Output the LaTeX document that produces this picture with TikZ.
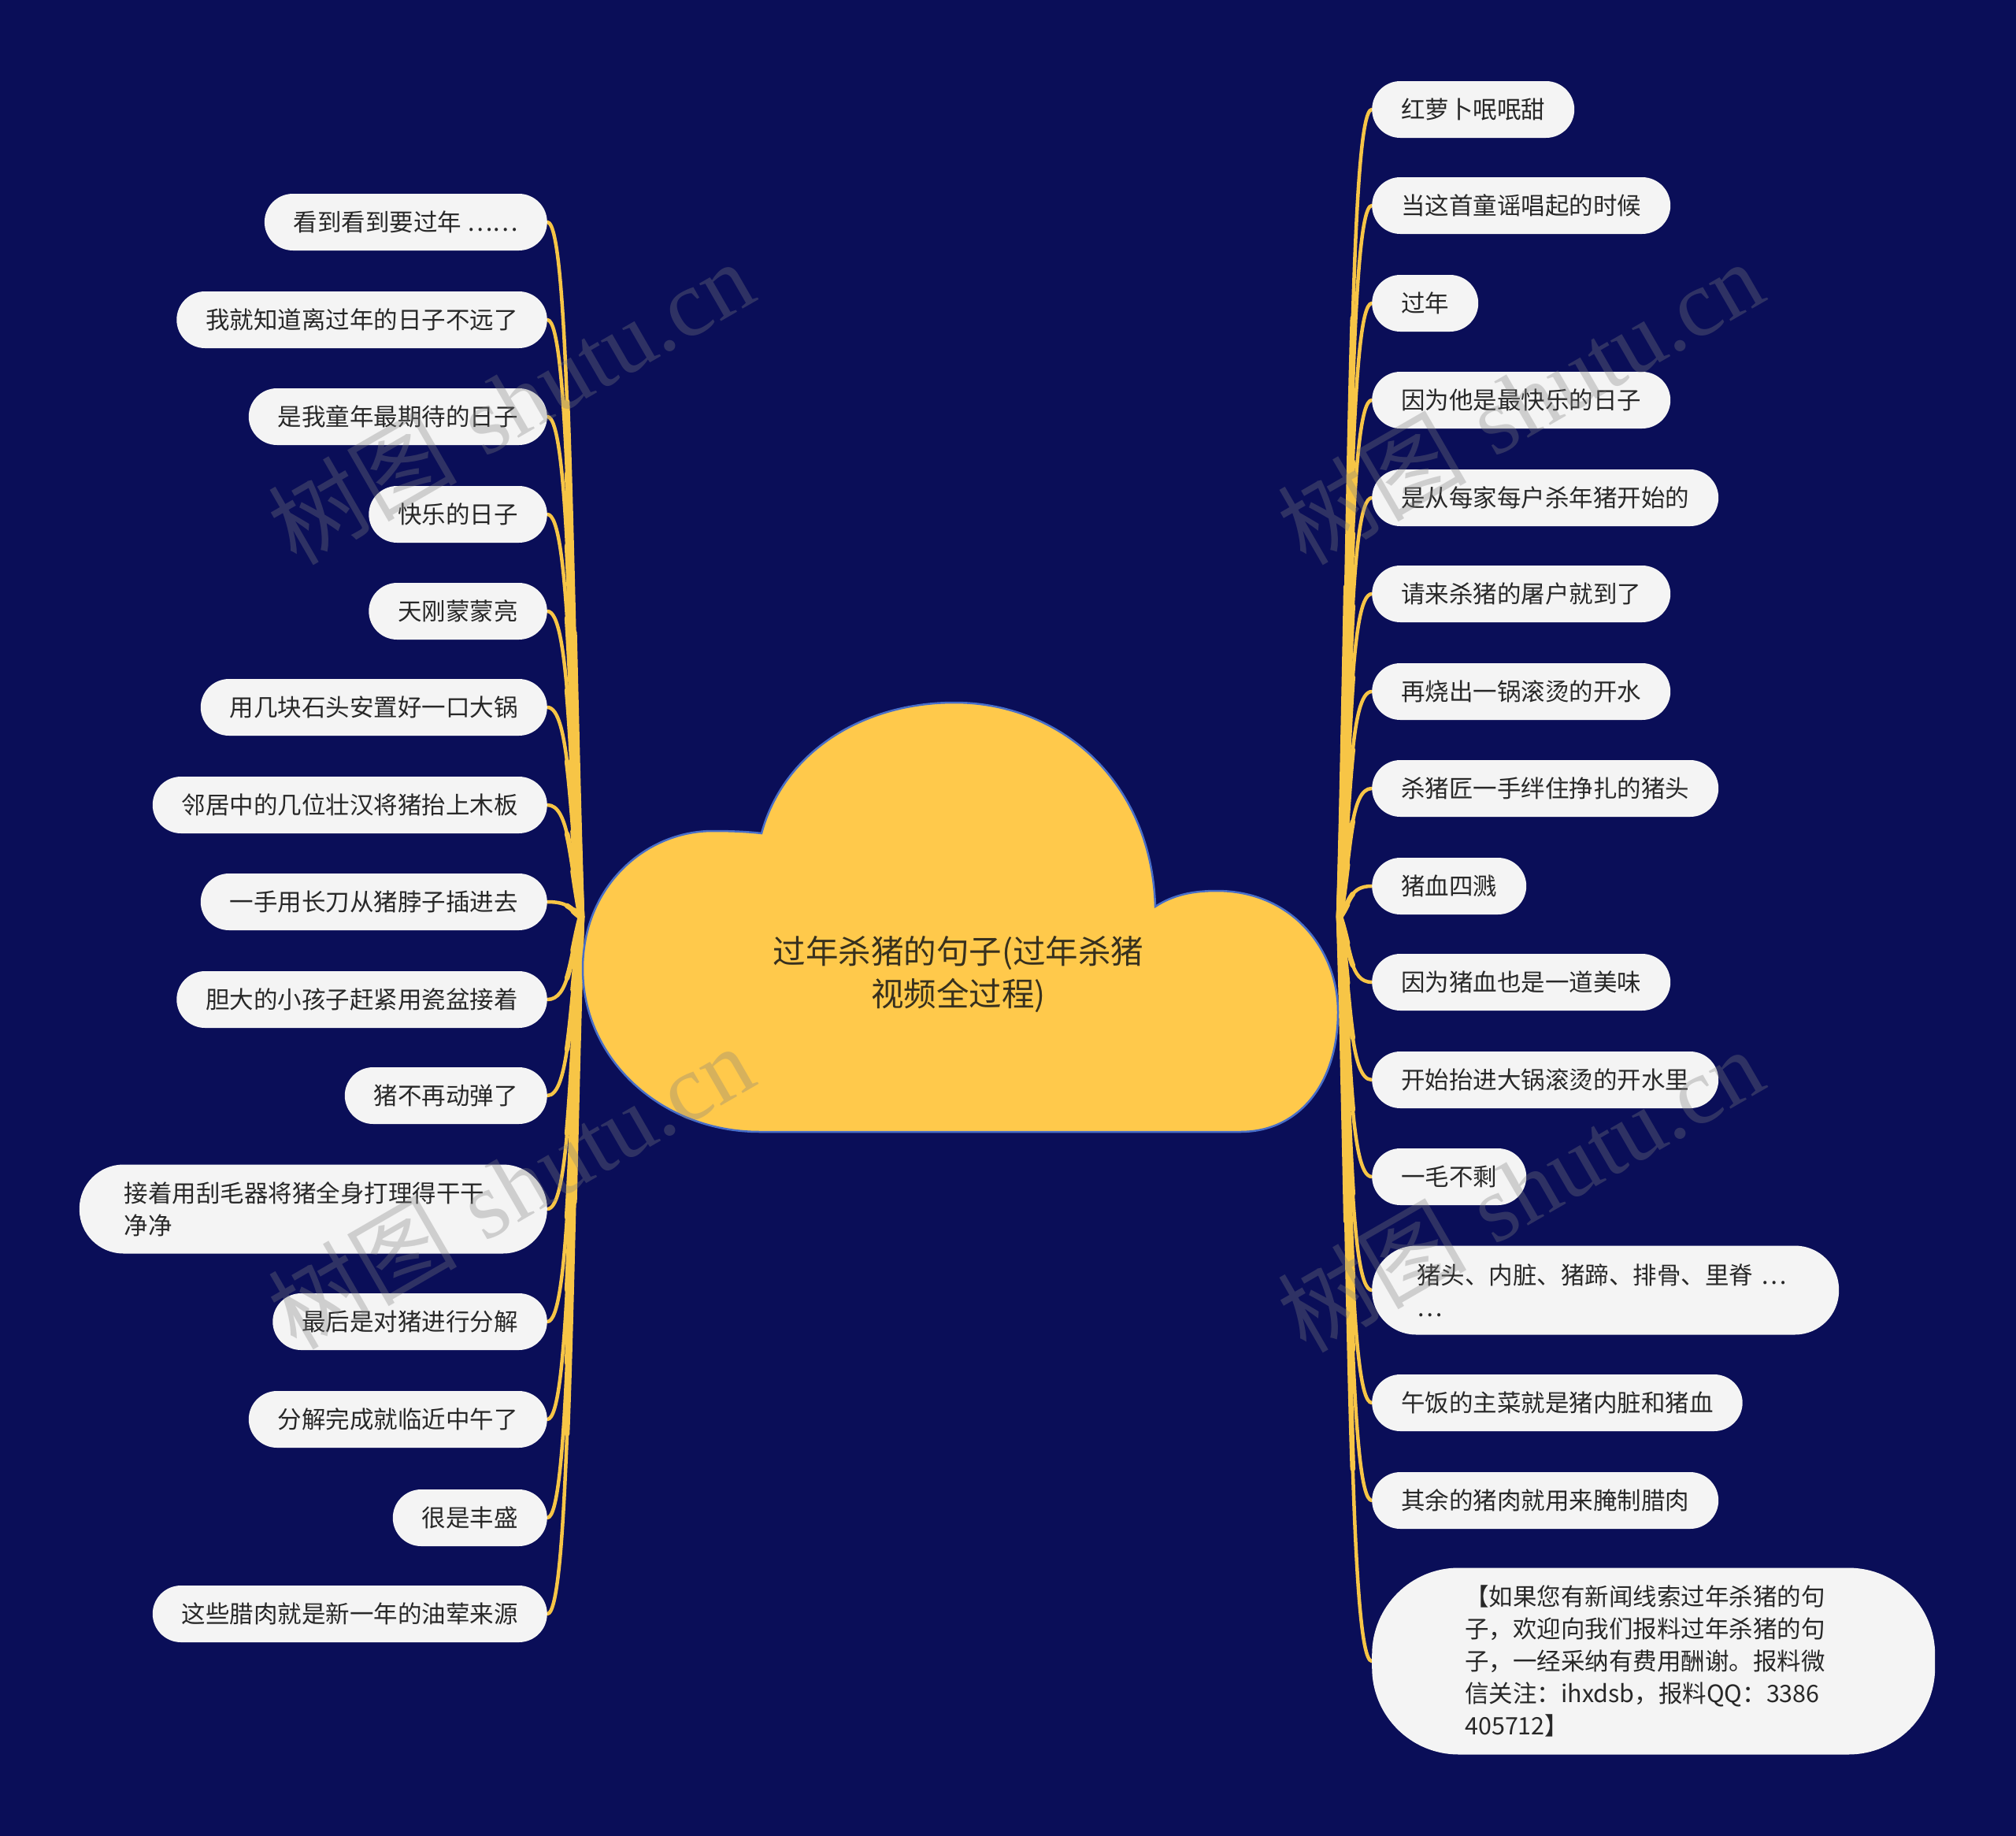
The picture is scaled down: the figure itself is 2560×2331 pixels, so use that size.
\documentclass[tikz,border=0pt]{standalone}
\usepackage{fontspec}
\usetikzlibrary{calc}
\newfontfamily\cjk{Noto Sans CJK SC}
\newfontfamily\wmlat{Liberation Serif}
\definecolor{bg}{RGB}{10,14,88}
\definecolor{cloudfill}{RGB}{255,201,75}
\definecolor{cloudline}{RGB}{72,110,200}
\definecolor{connc}{RGB}{247,197,70}
\definecolor{leaffill}{RGB}{244,244,244}
\definecolor{leaftext}{RGB}{40,40,40}
\definecolor{roottext}{RGB}{55,48,30}
\definecolor{wmgray}{RGB}{128,128,128}
\pgfdeclarelayer{back}
\pgfdeclarelayer{links}
\pgfsetlayers{back,links,main}
\tikzset{
  leaf/.style={fill=leaffill, text=leaftext, rounded corners=36pt, minimum height=72pt,
    inner xsep=37pt, inner ysep=0pt, font=\cjk\fontsize{30.5}{41}\selectfont},
  leafL/.style={leaf, anchor=east},
  leafR/.style={leaf, anchor=west},
  multi/.style={text width=#1, align=left, inner xsep=57pt, minimum height=113pt, rounded corners=56pt},
  conn/.style={draw=connc, line cap=round, line join=round},
  wm/.style={text=wmgray, opacity=0.32, rotate=30, font=\fontsize{120}{120}\selectfont},
  rootlabel/.style={text=roottext, align=center, font=\cjk\fontsize{41.5}{54}\selectfont},
}
\newcommand\linkto[3]{%
  \coordinate (p0) at (#1);
  \coordinate (p3) at (#2);
  \path let \p0=(p0), \p3=(p3) in
    ({\x0+(#3)*14pt}, {0.5*(\y0+\y3)}) coordinate (c1)
    ({\x3-(#3)*28pt}, \y3) coordinate (c2);
  \draw[conn, line width=4.5pt] (#1) .. controls (c1) and (c2) .. (#2);
  \foreach \tv/\wv in {0.55/6.5pt, 0.28/8.5pt}{%
    \coordinate (q1) at ($(p0)!\tv!(c1)$);
    \coordinate (rr) at ($(c1)!\tv!(c2)$);
    \coordinate (q2) at ($(q1)!\tv!(rr)$);
    \coordinate (s2) at ($(c2)!\tv!(p3)$);
    \coordinate (s1) at ($(rr)!\tv!(s2)$);
    \coordinate (q3) at ($(q2)!\tv!(s1)$);
    \draw[conn, line width=\wv] (#1) .. controls (q1) and (q2) .. (q3);
  }%
}
\begin{document}
\begin{tikzpicture}[x=1pt, y=-1pt]
\begin{pgfonlayer}{back}
\fill[bg] (0,0) rectangle (2560,2331);
\end{pgfonlayer}
\useasboundingbox (0,0) rectangle (2560,2331);

% cloud
\filldraw[fill=cloudfill, draw=cloudline, line width=2.5pt]
 (967,1058) .. controls (995,955) and (1095,892) .. (1212,892)
 .. controls (1345,892) and (1462,990) .. (1467,1151)
 .. controls (1490,1136) and (1515,1131) .. (1545,1131)
 .. controls (1640,1131) and (1699,1205) .. (1699,1285)
 .. controls (1699,1375) and (1650,1437) .. (1575,1437)
 -- (965,1437)
 .. controls (840,1437) and (740,1345) .. (740,1230)
 .. controls (740,1125) and (820,1055) .. (905,1055)
 .. controls (930,1055) and (950,1056) .. (967,1058) -- cycle;
\node[rootlabel] (root) at (1217,1237) {过年杀猪的句子(过年杀猪\\视频全过程)};
\coordinate (hubL) at (738,1164);
\coordinate (hubR) at (1701,1164);

% left nodes
\node[leafL] (l1) at (695,282) {看到看到要过年 ……};
\node[leafL] (l2) at (695,406) {我就知道离过年的日子不远了};
\node[leafL] (l3) at (695,529) {是我童年最期待的日子};
\node[leafL] (l4) at (695,653) {快乐的日子};
\node[leafL] (l5) at (695,776) {天刚蒙蒙亮};
\node[leafL] (l6) at (695,898) {用几块石头安置好一口大锅};
\node[leafL] (l7) at (695,1022) {邻居中的几位壮汉将猪抬上木板};
\node[leafL] (l8) at (695,1145) {一手用长刀从猪脖子插进去};
\node[leafL] (l9) at (695,1269) {胆大的小孩子赶紧用瓷盆接着};
\node[leafL] (l10) at (695,1391) {猪不再动弹了};
\node[leafL, multi=480pt] (l11) at (695,1535) {接着用刮毛器将猪全身打理得干干\\净净};
\node[leafL] (l12) at (695,1678) {最后是对猪进行分解};
\node[leafL] (l13) at (695,1802) {分解完成就临近中午了};
\node[leafL] (l14) at (695,1927) {很是丰盛};
\node[leafL] (l15) at (695,2049) {这些腊肉就是新一年的油荤来源};

% right nodes
\node[leafR] (r1) at (1742,139) {红萝卜呡呡甜};
\node[leafR] (r2) at (1742,261) {当这首童谣唱起的时候};
\node[leafR] (r3) at (1742,385) {过年};
\node[leafR] (r4) at (1742,508) {因为他是最快乐的日子};
\node[leafR] (r5) at (1742,632) {是从每家每户杀年猪开始的};
\node[leafR] (r6) at (1742,754) {请来杀猪的屠户就到了};
\node[leafR] (r7) at (1742,878) {再烧出一锅滚烫的开水};
\node[leafR] (r8) at (1742,1001) {杀猪匠一手绊住挣扎的猪头};
\node[leafR] (r9) at (1742,1125) {猪血四溅};
\node[leafR] (r10) at (1742,1247) {因为猪血也是一道美味};
\node[leafR] (r11) at (1742,1371) {开始抬进大锅滚烫的开水里};
\node[leafR] (r12) at (1742,1494) {一毛不剩};
\node[leafR, multi=479pt] (r13) at (1742,1638) {猪头、内脏、猪蹄、排骨、里脊~…\\…};
\node[leafR] (r14) at (1742,1781) {午饭的主菜就是猪内脏和猪血};
\node[leafR] (r15) at (1742,1905) {其余的猪肉就用来腌制腊肉};
\node[leafR, text width=479pt, align=left, inner xsep=118pt, minimum height=237pt, rounded corners=110pt] (r16) at (1742,2109)
 {【如果您有新闻线索过年杀猪的句\\子，欢迎向我们报料过年杀猪的句\\子，一经采纳有费用酬谢。报料微\\信关注：ihxdsb，报料QQ：3386\\405712】};

% connectors
\begin{pgfonlayer}{links}
\foreach \n in {1,...,15}{\linkto{hubL}{l\n.east}{-1}}
\foreach \n in {1,...,16}{\linkto{hubR}{r\n.west}{1}}
\end{pgfonlayer}

% watermarks
\node[wm] (w1) at (648,510) {{\cjk 树图} {\wmlat shutu.cn}};
\node[wm] (w2) at (648,1506) {{\cjk 树图} {\wmlat shutu.cn}};
\node[wm] (w3) at (1930,510) {{\cjk 树图} {\wmlat shutu.cn}};
\node[wm] (w4) at (1930,1510) {{\cjk 树图} {\wmlat shutu.cn}};
\end{tikzpicture}
\end{document}
